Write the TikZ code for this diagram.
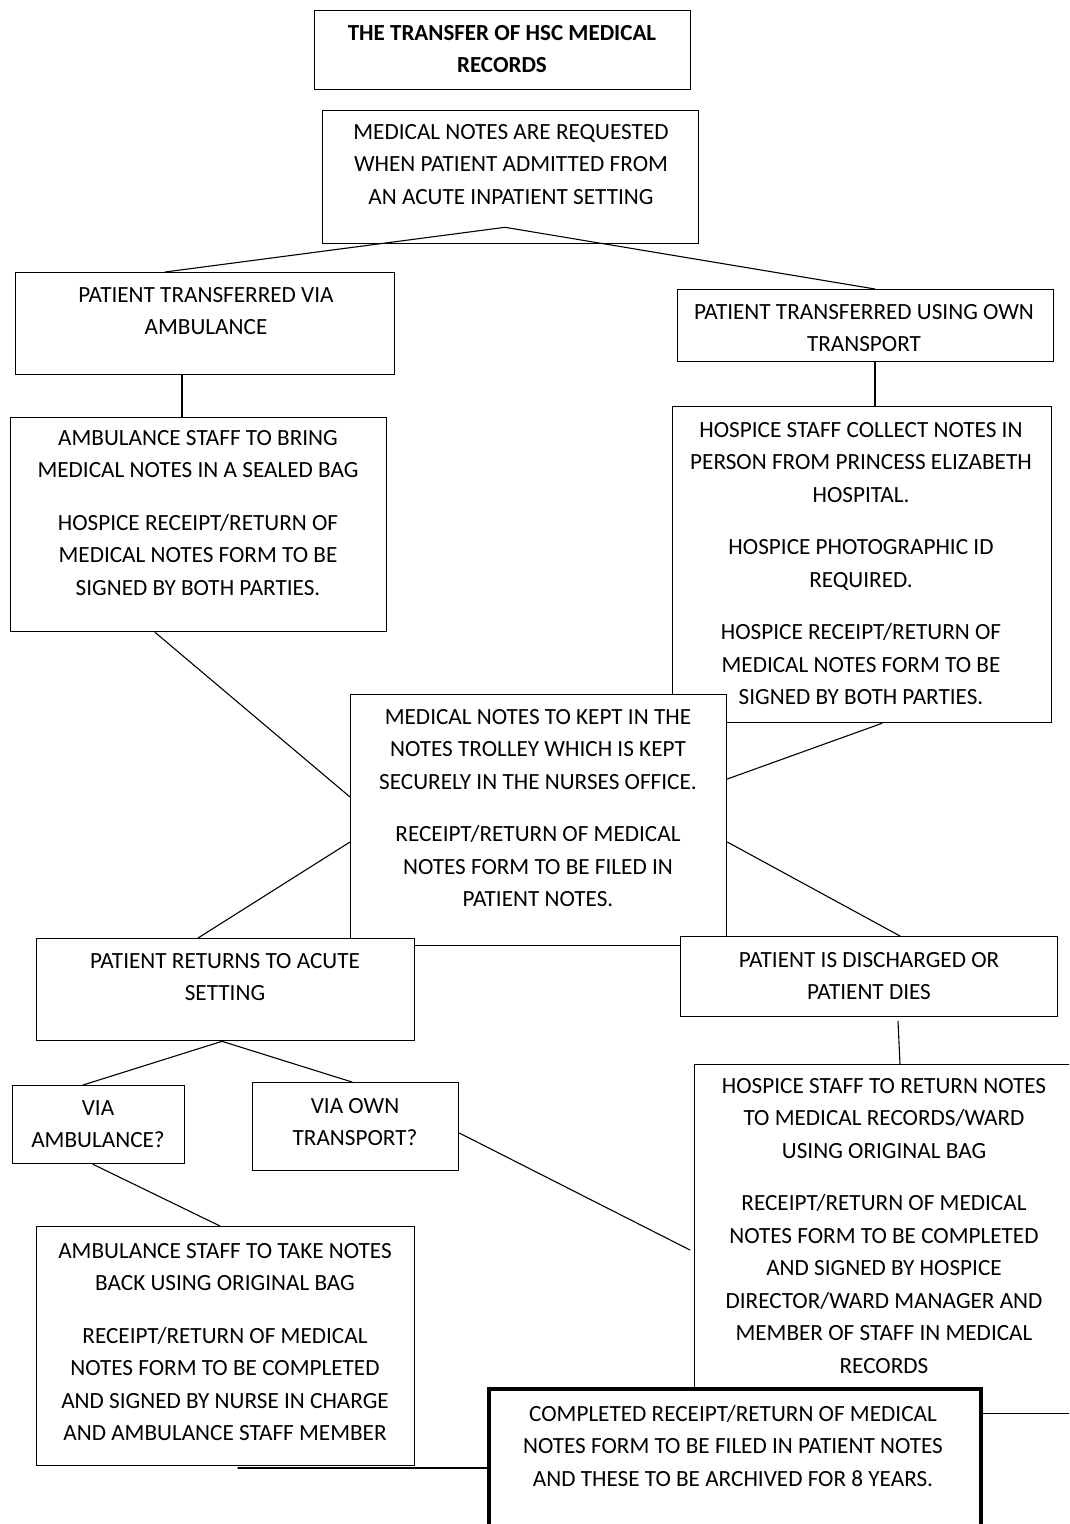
\documentclass[tikz,border=0pt]{standalone}
\usepackage{fontspec}
\setmainfont{Carlito}
\usetikzlibrary{calc}
\tikzset{
  box/.style={draw, line width=1.3pt, fill=white, anchor=north west, inner sep=0pt},
  boldbox/.style={draw, line width=4pt, fill=white, anchor=north west, inner sep=0pt},
  txt/.style={align=center, anchor=north, inner sep=0pt, font=\fontsize{23.2}{32.5}\selectfont},
  link/.style={line width=1.1pt, line cap=round},
}
\newcommand{\pgap}{\\[20pt]}
\begin{document}
\begin{tikzpicture}[x=1pt,y=-1pt]
\useasboundingbox (0,0) rectangle (1069,1524);
\clip (0,0) rectangle (1069,1524);
\fill[white] (0,0) rectangle (1069,1524);

% title
\node[box, minimum width=376pt, minimum height=79pt] (title) at (314,10) {};
\node[txt, font=\fontsize{23}{32.5}\selectfont\bfseries] (title-t) at (502,25) {THE TRANSFER OF HSC MEDICAL\\RECORDS};

% request
\node[box, minimum width=376pt, minimum height=133pt] (req) at (322,110) {};
\node[txt] (req-t) at (511,124) {MEDICAL NOTES ARE REQUESTED\\WHEN PATIENT ADMITTED FROM\\AN ACUTE INPATIENT SETTING};

% transfer boxes
\node[box, minimum width=379pt, minimum height=102pt] (amb) at (15,272) {};
\node[txt] (amb-t) at (206,287) {PATIENT TRANSFERRED VIA\\AMBULANCE};
\node[box, minimum width=376pt, minimum height=72pt] (own) at (677,289) {};
\node[txt] (own-t) at (864,304) {PATIENT TRANSFERRED USING OWN\\TRANSPORT};

\coordinate (apex) at ([xshift=183pt,yshift=17pt]req.south west);
\draw[link] (apex) -- ([xshift=150pt]amb.north west);
\draw[link] (apex) -- ([xshift=198pt]own.north west);

% ambulance staff
\node[box, minimum width=376pt, minimum height=214pt] (ambstaff) at (10,417) {};
\node[txt] (ambstaff-t) at (198,430) {AMBULANCE STAFF TO BRING\\MEDICAL NOTES IN A SEALED BAG\pgap HOSPICE RECEIPT/RETURN OF\\MEDICAL NOTES FORM TO BE\\SIGNED BY BOTH PARTIES.};
\draw[link] ([xshift=167pt]amb.south west) -- ([xshift=172pt]ambstaff.north west);

% hospice collect
\node[box, minimum width=379pt, minimum height=316pt] (collect) at (672,406) {};
\node[txt] (collect-t) at (861,422) {HOSPICE STAFF COLLECT NOTES IN\\PERSON FROM PRINCESS ELIZABETH\\HOSPITAL.\pgap HOSPICE PHOTOGRAPHIC ID\\REQUIRED.\pgap HOSPICE RECEIPT/RETURN OF\\MEDICAL NOTES FORM TO BE\\SIGNED BY BOTH PARTIES.};
\draw[link] ([xshift=198pt]own.south west) -- ([xshift=203pt]collect.north west);

% central
\node[box, minimum width=376pt, minimum height=251pt] (central) at (350,694) {};
\node[txt] (central-t) at (538,709) {MEDICAL NOTES TO KEPT IN THE\\NOTES TROLLEY WHICH IS KEPT\\SECURELY IN THE NURSES OFFICE.\pgap RECEIPT/RETURN OF MEDICAL\\NOTES FORM TO BE FILED IN\\PATIENT NOTES.};
\draw[link] ([xshift=145pt]ambstaff.south west) -- ([yshift=-103pt]central.north west);
\draw[link] ([xshift=210pt]collect.south west) -- ([yshift=-85pt]central.north east);

% returns / discharged
\node[box, minimum width=378pt, minimum height=102pt] (returns) at (36,938) {};
\node[txt] (returns-t) at (225,953) {PATIENT RETURNS TO ACUTE\\SETTING};
\node[box, minimum width=377pt, minimum height=80pt] (disch) at (680,936) {};
\node[txt] (disch-t) at (869,952) {PATIENT IS DISCHARGED OR\\PATIENT DIES};
\draw[link] ([yshift=-148pt]central.north west) -- ([xshift=162pt]returns.north west);
\draw[link] ([yshift=-148pt]central.north east) -- ([xshift=220pt]disch.north west);

% via boxes
\node[box, minimum width=172pt, minimum height=78pt] (viaamb) at (12,1085) {};
\node[txt] (viaamb-t) at (98,1100) {VIA\\AMBULANCE?};
\node[box, minimum width=206pt, minimum height=88pt] (viaown) at (252,1082) {};
\node[txt] (viaown-t) at (355,1098) {VIA OWN\\TRANSPORT?};
\coordinate (rapex) at ([xshift=186pt]returns.south west);
\draw[link] (rapex) -- ([xshift=71pt]viaamb.north west);
\draw[link] (rapex) -- ([xshift=100pt]viaown.north west);

% take back
\node[box, minimum width=378pt, minimum height=239pt] (takeback) at (36,1226) {};
\node[txt] (takeback-t) at (225,1243) {AMBULANCE STAFF TO TAKE NOTES\\BACK USING ORIGINAL BAG\pgap RECEIPT/RETURN OF MEDICAL\\NOTES FORM TO BE COMPLETED\\AND SIGNED BY NURSE IN CHARGE\\AND AMBULANCE STAFF MEMBER};
\draw[link] ([xshift=81pt]viaamb.south west) -- ([xshift=184pt]takeback.north west);

% hospice return
\node[box, minimum width=386pt, minimum height=349pt] (hret) at (694,1064) {};
\node[txt] (hret-t) at (884,1078) {HOSPICE STAFF TO RETURN NOTES\\TO MEDICAL RECORDS/WARD\\USING ORIGINAL BAG\pgap RECEIPT/RETURN OF MEDICAL\\NOTES FORM TO BE COMPLETED\\AND SIGNED BY HOSPICE\\DIRECTOR/WARD MANAGER AND\\MEMBER OF STAFF IN MEDICAL\\RECORDS};
\draw[link] ([xshift=218pt,yshift=-4pt]disch.south west) -- ([xshift=206pt]hret.north west);
\draw[link] ([yshift=-51pt]viaown.north east) -- ([xshift=-4pt,yshift=-186pt]hret.north west);

% completed
\node[boldbox, minimum width=492pt, minimum height=160pt] (done) at (487,1387) {};
\node[txt] (done-t) at (733,1405) {COMPLETED RECEIPT/RETURN OF MEDICAL\\NOTES FORM TO BE FILED IN PATIENT NOTES\\AND THESE TO BE ARCHIVED FOR 8 YEARS.};
\coordinate (tbend) at (238,1468);
\draw[link] (tbend) -- ([yshift=-81pt]done.north west);
\end{tikzpicture}
\end{document}
